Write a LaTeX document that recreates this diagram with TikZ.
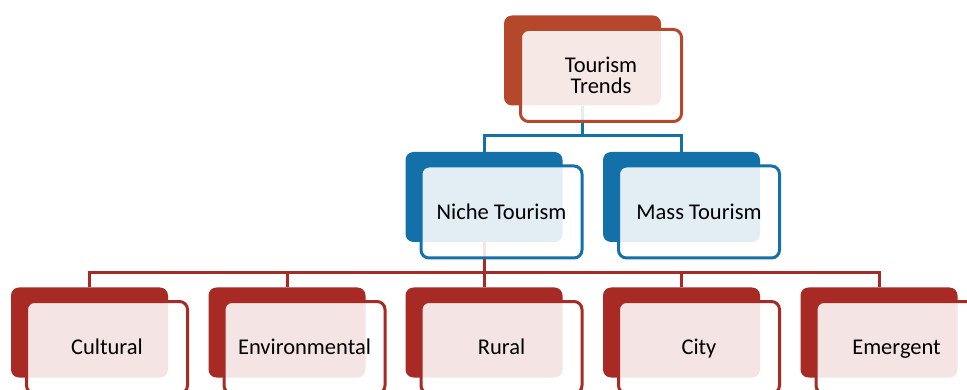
\documentclass[tikz,border=0pt]{standalone}
\usepackage{fontspec}
\setmainfont{Carlito}
\usetikzlibrary{calc}

\definecolor{trendorange}{RGB}{181,72,42}
\definecolor{tourblue}{RGB}{20,112,168}
\definecolor{kindred}{RGB}{168,42,36}

\begin{document}
\begin{tikzpicture}[x=1pt,y=-1pt,font=\fontsize{22.5}{20.5}\selectfont,
  backbox/.style={fill=#1,rounded corners=8pt,minimum width=157pt,minimum height=90pt,inner sep=0pt},
  frontbox/.style={draw=#1,line width=3pt,fill=white,fill opacity=0.88,text opacity=1,
    rounded corners=8pt,minimum width=161pt,minimum height=92pt,inner sep=0pt,align=center},
  oneline/.style={text height=14.5pt,text depth=0pt},
  link/.style={draw=#1,line width=3pt}]
\useasboundingbox (0,0) rectangle (967,390);

\begin{scope}
% back plates
\node[backbox=trendorange] (trends) at (582.5,60.5) {};
\node[backbox=tourblue] (niche) at (484,197) {};
\node[backbox=tourblue] (mass) at (681.5,197) {};
\node[backbox=kindred] (cultural) at (89.5,332.5) {};
\node[backbox=kindred] (environ) at (287,332.5) {};
\node[backbox=kindred] (rural) at (484,332.5) {};
\node[backbox=kindred] (city) at (681.5,332.5) {};
\node[backbox=kindred] (emergent) at (879,332.5) {};

% connectors
\draw[link=tourblue] (trends.south) -- ++(0,30) -| (niche.north);
\draw[link=tourblue] (trends.south) -- ++(0,30) -| (mass.north);
\draw[link=kindred] (niche.south) -- ++(0,30) -| (cultural.north);
\draw[link=kindred] (niche.south) -- ++(0,30) -| (environ.north);
\draw[link=kindred] (niche.south) -- (rural.north);
\draw[link=kindred] (niche.south) -- ++(0,30) -| (city.north);
\draw[link=kindred] (niche.south) -- ++(0,30) -| (emergent.north);

% front cards
\node[frontbox=trendorange] (trends-f) at ($(trends)+(18.5,15)$) {Tourism\\Trends};
\node[frontbox=tourblue,oneline] (niche-f) at ($(niche)+(17.5,15)$) {Niche Tourism};
\node[frontbox=tourblue,oneline] (mass-f) at ($(mass)+(17.5,15)$) {Mass Tourism};
\node[frontbox=kindred,oneline] (cultural-f) at ($(cultural)+(17.5,15)$) {Cultural};
\node[frontbox=kindred,oneline] (environ-f) at ($(environ)+(17.5,15)$) {Environmental};
\node[frontbox=kindred,oneline] (rural-f) at ($(rural)+(17.5,15)$) {Rural};
\node[frontbox=kindred,oneline] (city-f) at ($(city)+(17.5,15)$) {City};
\node[frontbox=kindred,oneline] (emergent-f) at ($(emergent)+(17.5,15)$) {Emergent};
\end{scope}

\end{tikzpicture}
\end{document}
